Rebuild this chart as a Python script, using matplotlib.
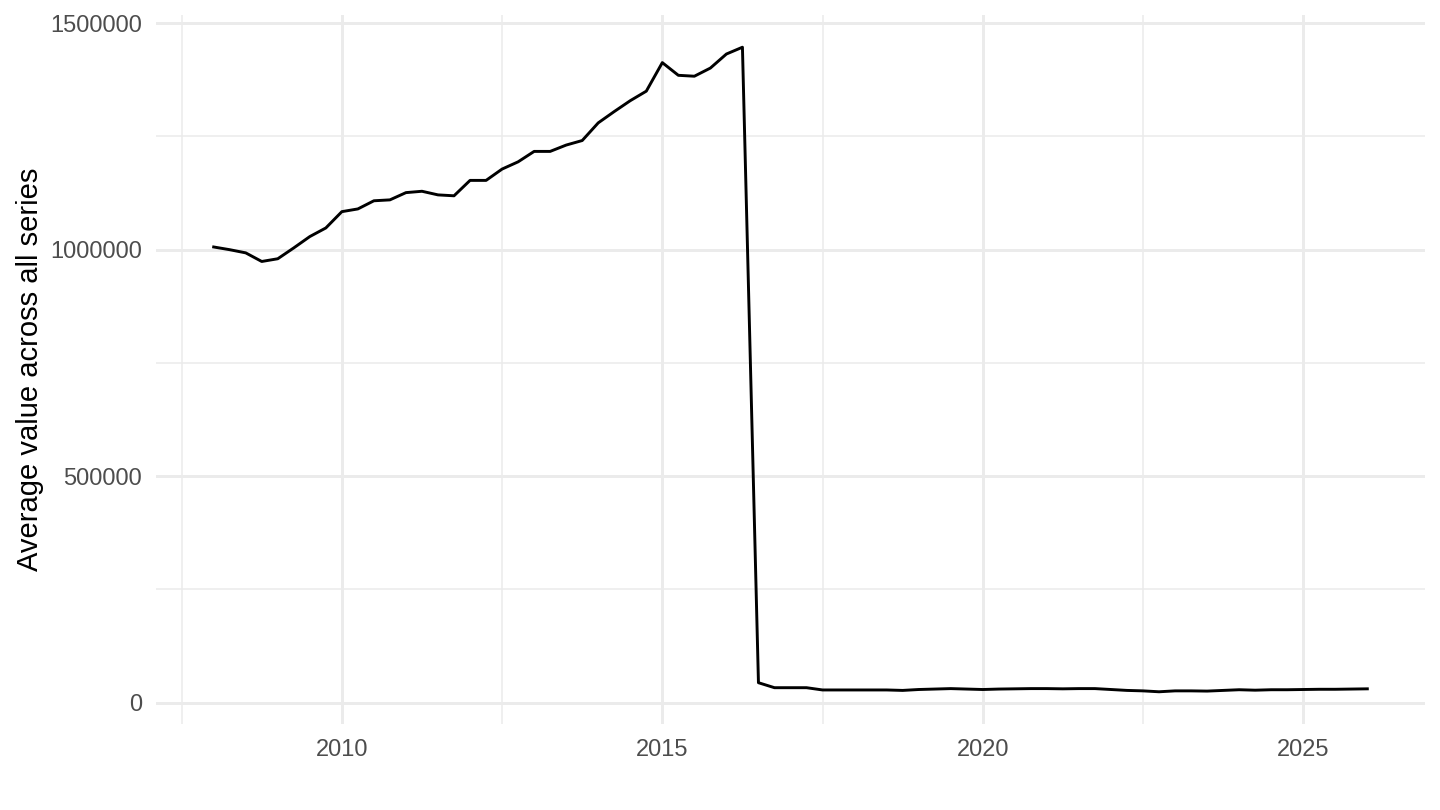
import numpy as np
import matplotlib.pyplot as plt

plt.rcParams['font.family'] = ['Liberation Sans', 'DejaVu Sans']

# quarterly averages, 2008 Q1 .. 2026 Q1
start_year = 2008.0
values = [
    1006000, 1000000, 993000, 974000,
    980000, 1004000, 1029000, 1048000,
    1084000, 1090000, 1108000, 1110000,
    1126000, 1129000, 1121000, 1119000,
    1153000, 1153000, 1178000, 1194000,
    1217000, 1217000, 1231000, 1241000,
    1280000, 1305000, 1329000, 1350000,
    1413000, 1385000, 1383000, 1401000,
    1432000, 1447000, 44000, 33000,
    33000, 33000, 28000, 28000,
    28000, 28000, 28000, 27000,
    29000, 30000, 31000, 30000,
    29000, 30000, 30500, 31000,
    31000, 30500, 31000, 31000,
    29000, 27000, 26000, 24000,
    26000, 26000, 25500, 27000,
    28500, 27500, 28500, 28500,
    29000, 29500, 29500, 30000,
    30500,
]
x = start_year + 0.25 * np.arange(len(values))

x_major = [2010, 2015, 2020, 2025]
x_minor = [2007.5, 2012.5, 2017.5, 2022.5]
y_major = [0, 500000, 1000000, 1500000]
y_minor = [250000, 750000, 1250000]

fig = plt.figure(figsize=(14.4, 8.1), dpi=100)
ax = fig.add_axes([156/1440, 1 - 724/810, (1425-156)/1440, (724-15)/810])

ax.plot(x, values, color='black', linewidth=2.1, zorder=3)

# ggplot-like 5% expansion
xl, xh = x.min(), x.max()
yl, yh = min(values), max(values)
ax.set_xlim(xl - 0.05*(xh-xl), xh + 0.05*(xh-xl))
ax.set_ylim(yl - 0.05*(yh-yl), yh + 0.05*(yh-yl))

ax.set_xticks(x_major)
ax.set_xticks(x_minor, minor=True)
ax.set_yticks(y_major)
ax.set_yticks(y_minor, minor=True)
ax.set_yticklabels([str(v) for v in y_major])

ax.grid(which='major', color='#EBEBEB', linewidth=2.1)
ax.grid(which='minor', color='#EBEBEB', linewidth=1.1)
ax.set_axisbelow(True)

for s in ax.spines.values():
    s.set_visible(False)
ax.tick_params(which='both', length=0)
ax.tick_params(axis='both', labelsize=17, labelcolor='#4D4D4D')
ax.tick_params(axis='x', pad=11)
ax.tick_params(axis='y', pad=10)

fig.text(30/1440, 1 - 369/810, 'Average value across all series',
         rotation=90, ha='center', va='center', fontsize=21, color='black')

fig.savefig('out.png', dpi=100)
